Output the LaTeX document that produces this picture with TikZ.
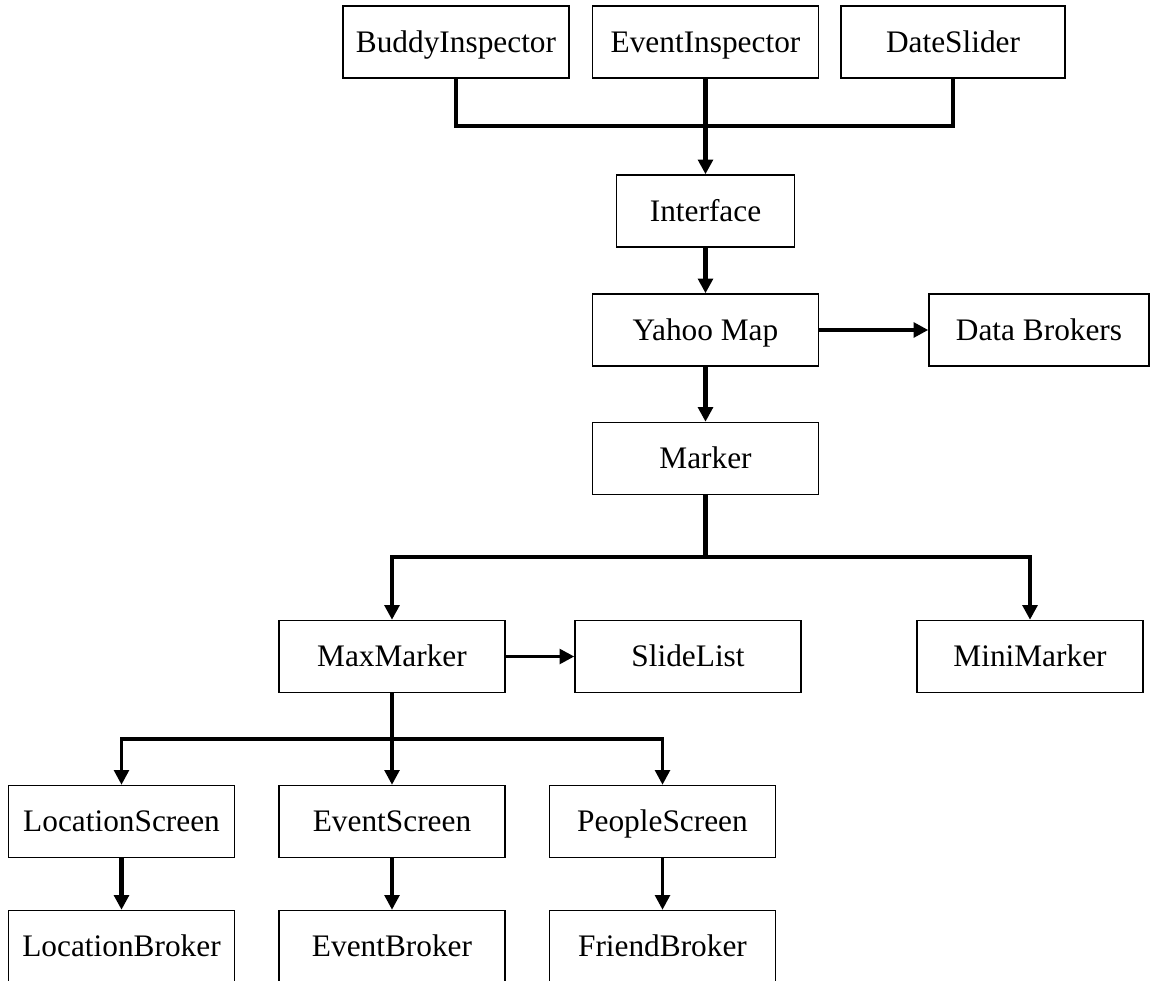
\documentclass[tikz,border=0pt]{standalone}
\usepackage{fontspec}
\setmainfont{Liberation Serif}
\usetikzlibrary{arrows.meta}
\begin{document}
\begin{tikzpicture}[x=0.75pt,y=-0.75pt,
  box/.style={draw, line width=1.1pt, minimum width=169.5pt, minimum height=54pt,
    inner sep=0pt, font=\fontsize{23.5}{28}\selectfont, text height=15.6pt, text depth=0pt},
  heavy/.style={line width=3.7pt},
  medium/.style={line width=2.5pt},
  tip/.style={-{Triangle[width=11pt,length=11pt]}}
]
\useasboundingbox (0,0) rectangle (1151,980);

\node[box] (buddy) at (456,42) {BuddyInspector};
\node[box] (event) at (705.5,42) {EventInspector};
\node[box, minimum width=168pt] (date) at (953,42) {DateSlider};
\node[box, minimum width=133.5pt] (iface) at (705.5,211) {Interface};
\node[box] (yahoo) at (705.5,330) {Yahoo Map};
\node[box, minimum width=165pt] (data) at (1039,330) {Data Brokers};
\node[box] (marker) at (705.5,458.5) {Marker};
\node[box] (maxm) at (392,656.5) {MaxMarker};
\node[box] (slide) at (688,656.5) {SlideList};
\node[box] (mini) at (1030,656.5) {MiniMarker};
\node[box] (locs) at (121.5,821.5) {LocationScreen};
\node[box] (evs) at (392,821.5) {EventScreen};
\node[box] (peos) at (662.5,821.5) {PeopleScreen};
\node[box] (locb) at (121.5,946.5) {LocationBroker};
\node[box] (evb) at (392,946.5) {EventBroker};
\node[box] (frb) at (662.5,946.5) {FriendBroker};

\coordinate (bus1) at (705.5,126);
\coordinate (bus2) at (705.5,557);
\coordinate (bus3) at (392,739);

\draw[heavy] (buddy.south) |- (bus1) -| (date.south);
\draw[heavy,tip] (event.south) -- (iface.north);
\draw[heavy,tip] (iface.south) -- (yahoo.north);
\draw[heavy,tip] (yahoo.east) -- (data.west);
\draw[heavy,tip] (yahoo.south) -- (marker.north);
\draw[heavy] (marker.south) -- (bus2);
\draw[heavy,tip] (bus2) -| (maxm.north);
\draw[heavy,tip] (bus2) -| (mini.north);
\draw[medium,tip] (maxm.east) -- (slide.west);
\draw[medium] (maxm.south) -- (bus3);
\draw[medium,tip] (bus3) -| (locs.north);
\draw[medium,tip] (bus3) -- (evs.north);
\draw[medium,tip] (bus3) -| (peos.north);
\draw[heavy,tip] (locs.south) -- (locb.north);
\draw[medium,tip] (evs.south) -- (evb.north);
\draw[medium,tip] (peos.south) -- (frb.north);
\end{tikzpicture}
\end{document}
